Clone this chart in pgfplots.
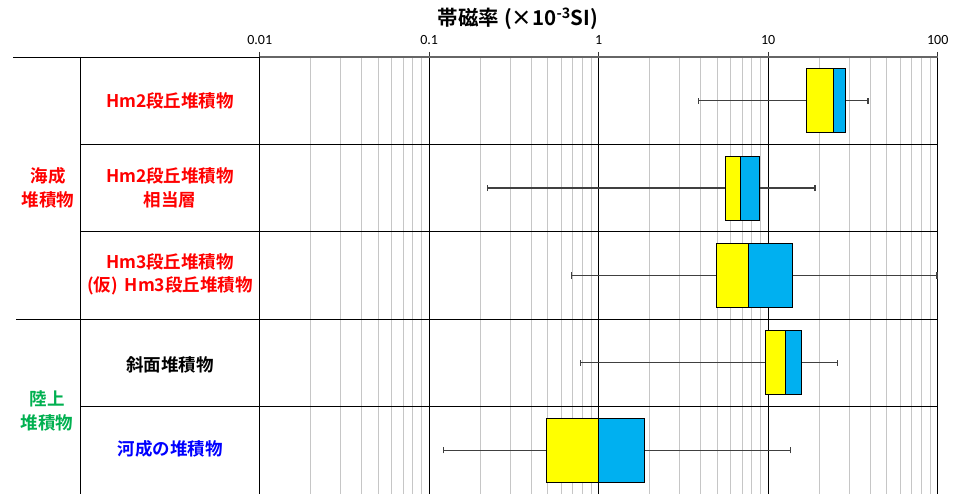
\documentclass[border=0pt]{standalone}
\usepackage{pgfplots}
\pgfplotsset{compat=1.18}
\usepackage{fontspec}
\setmainfont{Carlito}
\newfontfamily\jp{Noto Sans CJK JP}[BoldFont={Noto Sans CJK JP Bold}]
\definecolor{jred}{HTML}{FF0000}
\definecolor{jgreen}{HTML}{00B050}
\definecolor{jblue}{HTML}{0000FF}
\definecolor{boxyel}{HTML}{FFFF00}
\definecolor{boxblu}{HTML}{00B0F0}
\begin{document}
\begin{tikzpicture}[x=1pt,y=1pt]
\useasboundingbox (0,0) rectangle (963,494);
\begin{axis}[
  at={(259.7pt,0pt)}, anchor=south west, scale only axis,
  width=678pt, height=437pt,
  xmode=log, xmin=0.01, xmax=100, ymin=0.5, ymax=5.5,
  axis line style={draw=none},
  xtick={0.01,0.1,1,10,100}, xticklabels={0.01,0.1,1,10,100},
  xtick pos=upper, xticklabel pos=upper,
  tick align=outside, major tick length=5pt, minor tick length=0pt,
  xtick style={black!80, line width=0.8pt},
  xticklabel style={font=\fontsize{14}{16}\selectfont, text=black, yshift=4pt},
  ytick={1.5,2.5,3.5,4.5}, yticklabels={}, ytick style={draw=none},
  xmajorgrids, xminorgrids, ymajorgrids,
  major grid style={black, line width=0.8pt},
  minor grid style={gray!45, line width=0.8pt},
  clip=false,
  whisk/.style={draw=black!75, line width=1.2pt},
  yb/.style={fill=boxyel, draw=black, line width=0.9pt},
  bb/.style={fill=boxblu, draw=black, line width=0.9pt},
]
% top border line
\addplot[draw=black!60, line width=1.4pt] coordinates {(0.01,5.5) (100,5.5)};
% row 5 (top): Hm2 terrace deposits  min 3.89, q1 16.7, med 24.3, q3 28.7, max 38.8
\addplot[whisk] coordinates {(3.89,5) (38.8,5)};
\addplot[whisk] coordinates {(3.89,4.965) (3.89,5.035)};
\addplot[whisk] coordinates {(38.8,4.965) (38.8,5.035)};
\addplot[yb] coordinates {(16.7,4.634) (24.3,4.634) (24.3,5.366) (16.7,5.366)} -- cycle;
\addplot[bb] coordinates {(24.3,4.634) (28.7,4.634) (28.7,5.366) (24.3,5.366)} -- cycle;
% row 4: min 0.220, q1 5.58, med 6.88, q3 8.86, max 18.9
\addplot[whisk] coordinates {(0.220,4) (18.9,4)};
\addplot[whisk] coordinates {(0.220,3.965) (0.220,4.035)};
\addplot[whisk] coordinates {(18.9,3.965) (18.9,4.035)};
\addplot[yb] coordinates {(5.58,3.634) (6.88,3.634) (6.88,4.366) (5.58,4.366)} -- cycle;
\addplot[bb] coordinates {(6.88,3.634) (8.86,3.634) (8.86,4.366) (6.88,4.366)} -- cycle;
% row 3: min 0.694, q1 4.94, med 7.63, q3 13.95, max 99
\addplot[whisk] coordinates {(0.694,3) (99,3)};
\addplot[whisk] coordinates {(0.694,2.965) (0.694,3.035)};
\addplot[whisk] coordinates {(99,2.965) (99,3.035)};
\addplot[yb] coordinates {(4.94,2.634) (7.63,2.634) (7.63,3.366) (4.94,3.366)} -- cycle;
\addplot[bb] coordinates {(7.63,2.634) (13.95,2.634) (13.95,3.366) (7.63,3.366)} -- cycle;
% row 2: min 0.778, q1 9.62, med 12.6, q3 15.7, max 25.5
\addplot[whisk] coordinates {(0.778,2) (25.5,2)};
\addplot[whisk] coordinates {(0.778,1.965) (0.778,2.035)};
\addplot[whisk] coordinates {(25.5,1.965) (25.5,2.035)};
\addplot[yb] coordinates {(9.62,1.634) (12.6,1.634) (12.6,2.366) (9.62,2.366)} -- cycle;
\addplot[bb] coordinates {(12.6,1.634) (15.7,1.634) (15.7,2.366) (12.6,2.366)} -- cycle;
% row 1: min 0.121, q1 0.489, med 1.0, q3 1.86, max 13.5
\addplot[whisk] coordinates {(0.121,1) (13.5,1)};
\addplot[whisk] coordinates {(0.121,0.965) (0.121,1.035)};
\addplot[whisk] coordinates {(13.5,0.965) (13.5,1.035)};
\addplot[yb] coordinates {(0.489,0.634) (1.0,0.634) (1.0,1.366) (0.489,1.366)} -- cycle;
\addplot[bb] coordinates {(1.0,0.634) (1.86,0.634) (1.86,1.366) (1.0,1.366)} -- cycle;
\end{axis}
% label table lines
\draw[black, line width=0.8pt] (13.3,437) -- (259.7,437);
\draw[black, line width=0.8pt] (16,174.8) -- (259.7,174.8);
\draw[black, line width=0.8pt] (80.7,349.6) -- (259.7,349.6);
\draw[black, line width=0.8pt] (80.7,262.2) -- (259.7,262.2);
\draw[black, line width=0.8pt] (80.7,87.4) -- (259.7,87.4);
\draw[black, line width=0.8pt] (80.7,437) -- (80.7,0);
% texts
\begin{scope}[every node/.style={font=\jp\bfseries\fontsize{17.5}{23.5}\selectfont, align=center, inner sep=0pt}]
\node[text=jred] at (48,306) {海成\\堆積物};
\node[text=jgreen] at (47,83) {陸上\\堆積物};
\node[text=jred] at (170,393) {Hm2段丘堆積物};
\node[text=jred] at (170,306) {Hm2段丘堆積物\\相当層};
\node[text=jred] at (170,219.5) {Hm3段丘堆積物\\(仮)\hspace{0.4em}Hm3段丘堆積物};
\node[text=black] at (170,129) {斜面堆積物};
\node[text=jblue] at (170,45) {河成の堆積物};
\end{scope}
\node[font=\jp\bfseries\fontsize{20.5}{24}\selectfont, inner sep=0pt] at (518,475) {帯磁率 (×10\textsuperscript{-3}SI)};
\end{tikzpicture}
\end{document}
